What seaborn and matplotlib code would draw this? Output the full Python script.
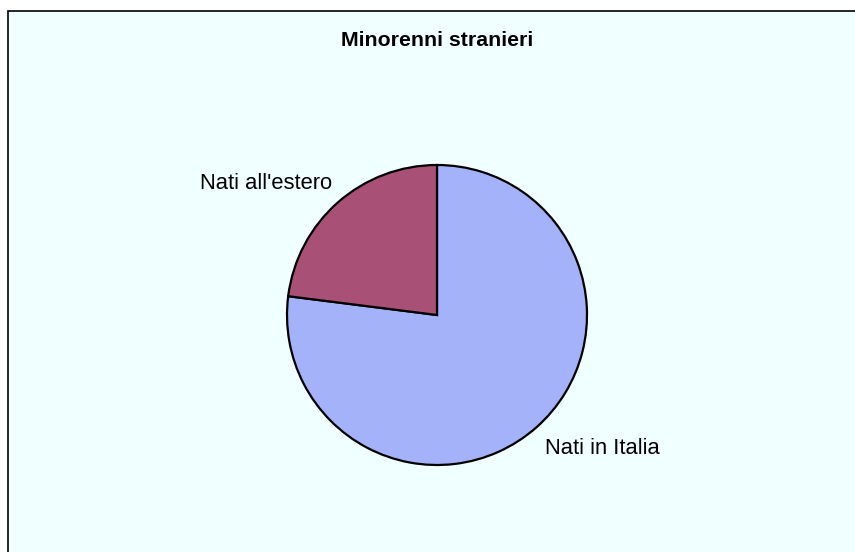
import seaborn as sns
import matplotlib.pyplot as plt
from matplotlib.patches import Rectangle

labels = ["Nati in Italia", "Nati all'estero"]
values = [77, 23]
colors = ["#A4B2FA", "#A85076"]

sns.set_style("white")
plt.rcParams['font.family'] = ['Liberation Sans', 'DejaVu Sans']
plt.rcParams['text.color'] = 'black'

fig = plt.figure(figsize=(8.55, 5.52), dpi=100, facecolor="white")

# sfondo con bordo (come il riquadro del grafico originale)
bg = Rectangle((8 / 855, -0.05), 1.1, 1 - 11 / 552 + 0.05, transform=fig.transFigure,
               facecolor="#F0FFFF", edgecolor="black", linewidth=1.2, zorder=0)
fig.add_artist(bg)

ax = fig.add_axes([(437 - 150) / 855, (552 - 465) / 552, 300 / 855, 300 / 552])
ax.set_facecolor("none")
wedges, _ = ax.pie(values, colors=colors, startangle=90, counterclock=False, radius=1,
                   wedgeprops=dict(edgecolor="black", linewidth=1.6))
for w in wedges:
    w.set_clip_on(False)
ax.set_xlim(-1, 1)
ax.set_ylim(-1, 1)
ax.set_aspect("equal")
ax.axis("off")

# etichette
ax.text(0.72, -0.89, labels[0], fontsize=15.8, ha="left", va="center")
ax.text(-0.70, 0.875, labels[1], fontsize=15.8, ha="right", va="center")

fig.text(437.5 / 855, 1 - 41 / 552, "Minorenni stranieri", fontsize=15.3,
         fontweight="bold", ha="center", va="center")

plt.savefig("out.png", dpi=100, facecolor=fig.get_facecolor())
plt.close()
